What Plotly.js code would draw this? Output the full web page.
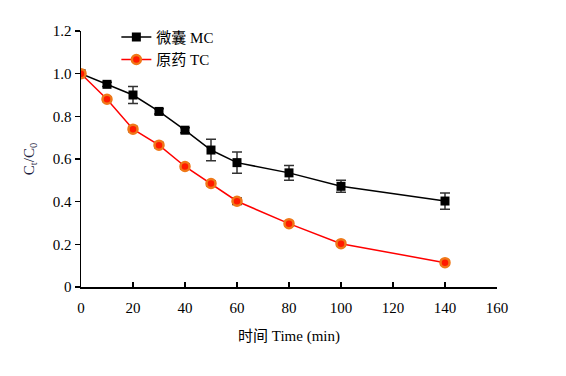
<!DOCTYPE html>
<html><head><meta charset="utf-8">
<script src="https://cdn.plot.ly/plotly-3.0.1.min.js"></script>
<style>body{margin:0;padding:0;background:#fff}</style>
</head><body>
<div id="chart" style="width:566px;height:376px"></div>
<script>
const time = [0, 10, 20, 30, 40, 50, 60, 80, 100, 140];
const mcValues = [1.0, 0.95, 0.90, 0.823, 0.735, 0.642, 0.583, 0.535, 0.472, 0.403];
const mcErrors = [0.005, 0.01, 0.04, 0.012, 0.012, 0.05, 0.05, 0.035, 0.028, 0.038];
const tcValues = [1.0, 0.88, 0.74, 0.665, 0.565, 0.485, 0.402, 0.297, 0.203, 0.114];
const tcErrors = [0.005, 0.01, 0.012, 0.012, 0.012, 0.012, 0.015, 0.01, 0.01, 0.01];
const yTickVals = [0, 0.2, 0.4, 0.6, 0.8, 1.0, 1.2];
const yTickText = ['0', '0.2', '0.4', '0.6', '0.8', '1.0', '1.2'];
const xTickVals = [0, 20, 40, 60, 80, 100, 120, 140, 160];

const serif = 'Liberation Serif, Times New Roman, Noto Sans CJK SC, serif';

const traces = [
  {
    x: time, y: mcValues, name: '微囊 MC', mode: 'lines+markers', type: 'scatter',
    line: {color: '#000000', width: 1.5},
    marker: {symbol: 'square', size: 9, color: '#000000'},
    error_y: {type: 'data', array: mcErrors, visible: true, color: '#333333', thickness: 1.5, width: 5}
  },
  {
    x: time, y: tcValues, name: '原药 TC', mode: 'lines+markers', type: 'scatter',
    line: {color: '#ff0000', width: 1.5},
    marker: {symbol: 'circle', size: 9, color: '#ff1a00', line: {color: '#f07818', width: 2.5}},
    error_y: {type: 'data', array: tcErrors, visible: true, color: '#333333', thickness: 1.5, width: 5}
  }
];

const layout = {
  width: 566, height: 376,
  margin: {l: 81, r: 69, t: 31, b: 89},
  paper_bgcolor: '#ffffff', plot_bgcolor: '#ffffff',
  font: {family: serif, size: 15, color: '#000000'},
  showlegend: true,
  legend: {x: 0.085, y: 1.04, xanchor: 'left', yanchor: 'top', bgcolor: 'rgba(0,0,0,0)',
           font: {family: serif, size: 15, color: '#000000'}, itemwidth: 30, tracegroupgap: 4},
  xaxis: {
    range: [0, 160], tickvals: xTickVals, ticks: 'inside', ticklen: 5, tickwidth: 1.5,
    tickcolor: '#000', showline: true, linecolor: '#000', linewidth: 1.5, zeroline: false,
    showgrid: false, tickfont: {family: serif, size: 15}, ticklabelstandoff: 6,
    title: {text: '时间 Time (min)', font: {family: serif, size: 15}, standoff: 16}
  },
  yaxis: {
    range: [0, 1.2], tickvals: yTickVals, ticktext: yTickText, ticks: 'outside', ticklen: 5, tickwidth: 1.5,
    tickcolor: '#000', showline: true, linecolor: '#000', linewidth: 1.5, zeroline: false,
    showgrid: false, tickfont: {family: serif, size: 15},
    title: {text: 'C<sub>t</sub>/C<sub>0</sub>', font: {family: serif, size: 15, color: '#1f1f3f'}, standoff: 14}
  }
};

Plotly.newPlot('chart', traces, layout, {displayModeBar: false, staticPlot: true});
</script>
</body></html>
